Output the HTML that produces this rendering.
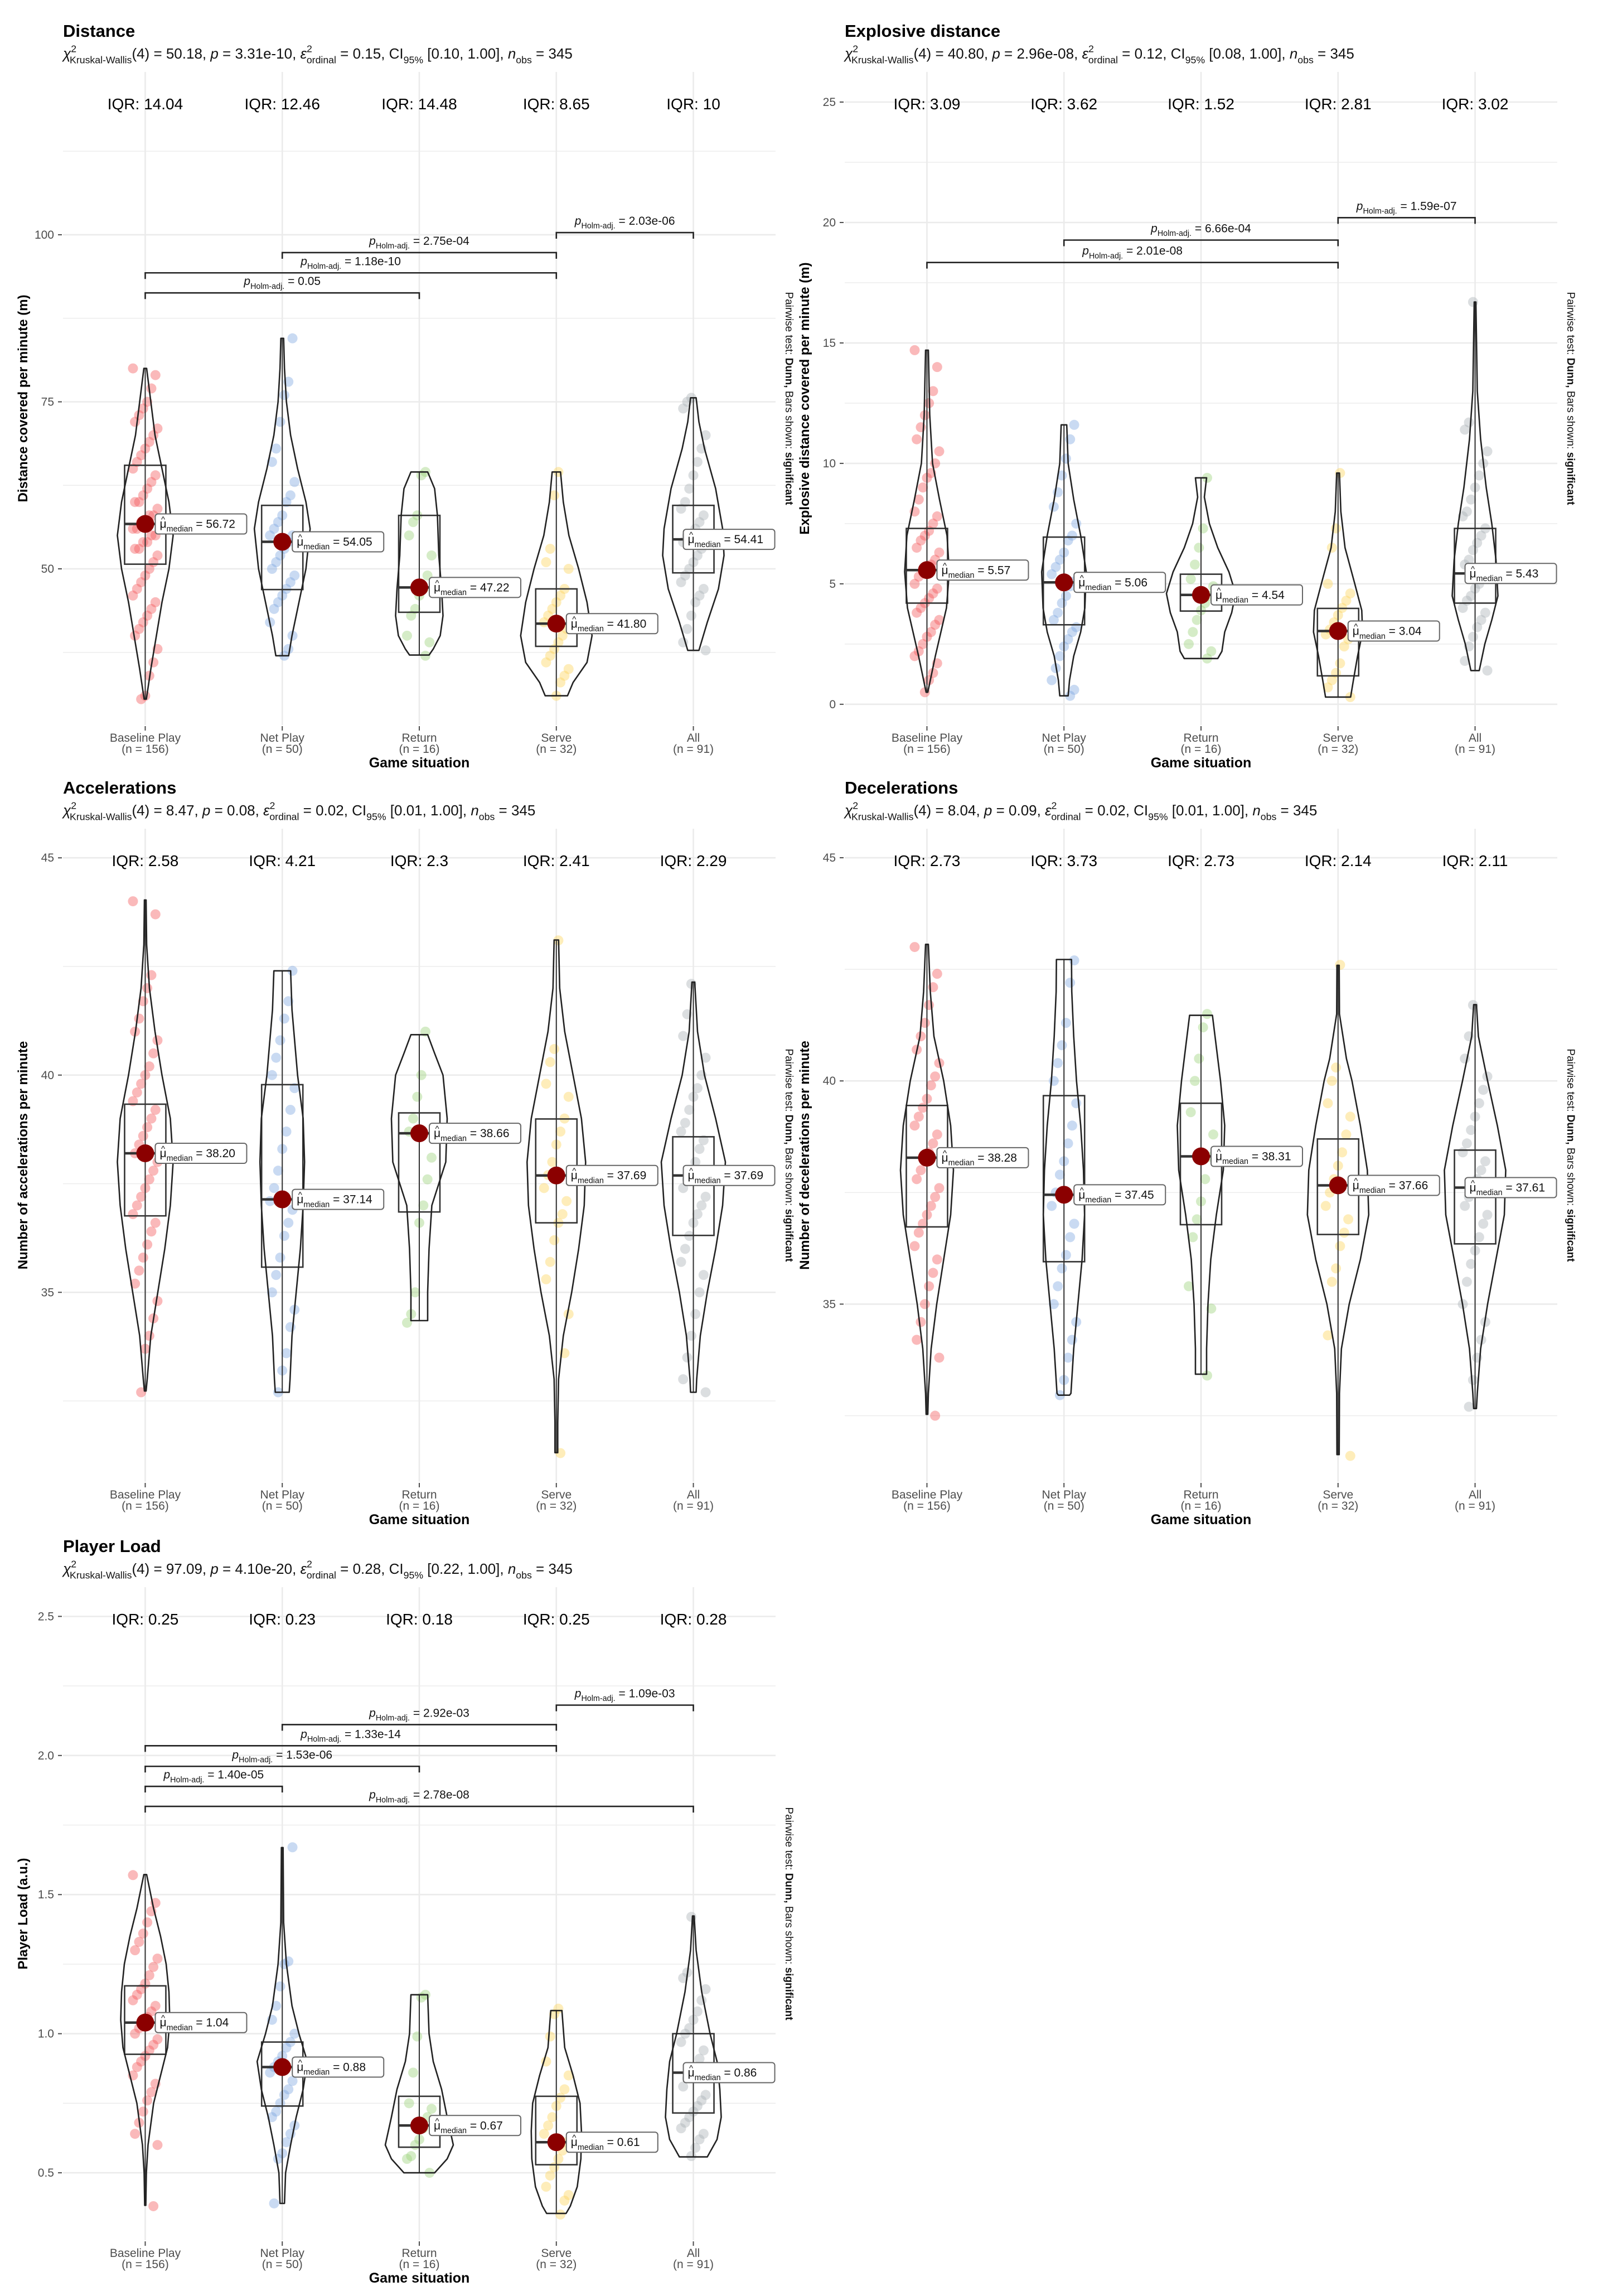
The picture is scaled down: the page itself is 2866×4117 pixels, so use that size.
<!DOCTYPE html>
<html><head><meta charset="utf-8"><title>Game situation comparisons</title>
<style>
html,body{margin:0;padding:0;background:#fff;}
svg{display:block;font-family:"Liberation Sans",Arial,sans-serif;}
</style></head>
<body>
<svg id="chart" width="2866" height="4117" viewBox="0 0 2866 4117" xmlns="http://www.w3.org/2000/svg"></svg>
<script>
// ---------- shared data ----------
const categories = ["Baseline Play","Net Play","Return","Serve","All"];
const counts = [156,50,16,32,91];

// ---------- Distance ----------
const distIQR = ["14.04","12.46","14.48","8.65","10"];
const distMedian = [56.72,54.05,47.22,41.80,54.41];
const distQ1 = [50.7,46.9,43.5,38.4,49.4];
const distQ3 = [65.5,59.5,58.0,47.0,59.5];
const distMin = [30.5,37.0,37.1,31.0,37.8];
const distMax = [80.0,84.5,64.5,64.5,75.6];
const distViolin = [
 [[80,0.05],[75,0.2],[70,0.35],[65,0.6],[60,0.85],[55,1.0],[50,0.85],[45,0.6],[40,0.4],[35,0.2],[30.5,0.04]],
 [[84.5,0.05],[80,0.08],[75,0.15],[70,0.3],[65,0.55],[60,0.85],[56,1.0],[50,0.85],[45,0.6],[40,0.35],[37,0.23]],
 [[64.5,0.3],[62,0.55],[58,0.65],[52,0.7],[47,0.8],[43,0.85],[40,0.75],[38,0.5],[37.1,0.35]],
 [[64.5,0.15],[60,0.25],[55,0.45],[50,0.8],[45,1.1],[40,1.28],[36,1.1],[33,0.6],[31,0.4]],
 [[75.6,0.1],[72,0.2],[68,0.4],[62,0.8],[56,1.05],[52,1.1],[47,0.9],[42,0.5],[37.8,0.2]]
];
const distPoints = [
 [80,79,77,75,74,73,72,71,70,69,68,67,66,65,64,63,62,61,60,60,59,58,58,57,57,56,56,55,55,54,54,53,53,52,51,50,49,48,47,46,45,44,43,42,41,40,38,36,34,31,30.5],
 [84.5,78,76,72,68,66,63,61,60,58,57,56,55,55,54,53,52,51,50,49,48,47,46,45,44,42,40,38,37],
 [64.5,64,58,57,55,52,49,47,46,44,43,40,39,37],
 [64.5,61,53,51,50,47,46,45,44,43,42,41,40,39,38,37,36,35,34,33,31],
 [75.6,75,74,70,68,66,64,62,60,59,58,57,56,55,55,54,54,53,52,51,50,49,48,47,46,45,43,41,39,37.8]
];
const distBarFrom = [3,1,0,0];
const distBarTo = [4,3,3,2];
const distBarY = [100.33,97.33,94.3,91.3];
const distBarP = ["2.03e-06","2.75e-04","1.18e-10","0.05"];
const distTicks = [50,75,100];

// ---------- Explosive distance ----------
const explIQR = ["3.09","3.62","1.52","2.81","3.02"];
const explMedian = [5.57,5.06,4.54,3.04,5.43];
const explQ1 = [4.2,3.3,3.87,1.18,4.2];
const explQ3 = [7.3,6.94,5.4,3.98,7.3];
const explMin = [0.5,0.35,1.9,0.3,1.4];
const explMax = [14.7,11.6,9.4,9.6,16.7];
const explViolin = [
 [[14.7,0.05],[12,0.1],[10,0.2],[8.5,0.45],[7,0.72],[5.5,0.8],[4,0.7],[3,0.5],[2,0.3],[1,0.12],[0.5,0.03]],
 [[11.6,0.1],[10,0.15],[8.5,0.35],[7,0.6],[5.5,0.8],[4,0.75],[3,0.6],[2,0.35],[1,0.2],[0.35,0.15]],
 [[9.4,0.2],[8.6,0.12],[7.5,0.3],[6.5,0.6],[5.5,1.0],[4.6,1.24],[3.8,1.1],[3,0.85],[2.2,0.75],[1.9,0.6]],
 [[9.6,0.05],[8,0.1],[6.5,0.25],[5,0.6],[3.9,0.85],[3,0.88],[2,0.7],[1,0.55],[0.3,0.45]],
 [[16.7,0.03],[13,0.08],[11,0.2],[9,0.4],[7.5,0.6],[6,0.75],[4.5,0.82],[3.5,0.6],[2.5,0.35],[1.4,0.15]]
];
const explPoints = [
 [14.7,14,13,12.5,12,11.5,11,10.5,10,9.6,9.4,9,8.5,8,7.8,7.5,7.2,7,6.8,6.5,6.3,6,5.8,5.6,5.5,5.3,5,4.8,4.6,4.4,4.2,4,3.8,3.5,3.3,3,2.8,2.5,2.2,2,1.7,1.3,1,0.5],
 [11.6,11,10.2,9.5,8.8,8.2,7.5,7,6.8,6.3,6,5.7,5.4,5.1,4.9,4.5,4.2,3.8,3.5,3.2,3,2.7,2.4,2,1.5,1,0.6,0.35],
 [9.4,7.3,6.5,5.8,5.2,4.9,4.5,4.2,3.9,3.5,3,2.5,2.2,1.9],
 [9.6,7.3,6.5,5,4.6,4.3,4,3.7,3.4,3.1,2.9,2.7,2.4,1.7,1.3,1,0.7,0.3],
 [16.7,11.7,11.4,10.5,10,9.5,9,8.5,8,7.8,7.3,7,6.7,6.4,6,5.8,5.5,5.3,5,4.8,4.5,4.3,4,3.8,3.5,3.2,2.8,2.4,1.8,1.4]
];
const explBarFrom = [3,1,0];
const explBarTo = [4,3,3];
const explBarY = [20.2,19.27,18.34];
const explBarP = ["1.59e-07","6.66e-04","2.01e-08"];
const explTicks = [0,5,10,15,20,25];

// ---------- Accelerations ----------
const accIQR = ["2.58","4.21","2.3","2.41","2.29"];
const accMedian = [38.20,37.14,38.66,37.69,37.69];
const accQ1 = [36.76,35.58,36.85,36.6,36.31];
const accQ3 = [39.33,39.78,39.13,38.99,38.58];
const accMin = [32.73,32.7,34.35,31.31,32.7];
const accMax = [44.03,42.4,40.93,43.11,42.14];
const accViolin = [
 [[44.03,0.03],[43,0.05],[42,0.15],[41,0.35],[40,0.6],[39,0.9],[38,1.0],[37,0.9],[36,0.7],[35,0.45],[34,0.2],[33,0.07],[32.73,0.03]],
 [[42.4,0.3],[41.5,0.35],[40,0.55],[39,0.75],[38,0.8],[37,0.75],[36,0.65],[35,0.5],[34,0.35],[33,0.28],[32.7,0.25]],
 [[40.93,0.3],[40.5,0.55],[40,0.85],[39,1.0],[38,0.95],[37.5,0.7],[37,0.45],[36,0.35],[35,0.3],[34.35,0.3]],
 [[43.11,0.08],[42,0.12],[41,0.3],[40,0.6],[39,0.9],[38,1.05],[37,1.0],[36,0.8],[35,0.55],[34,0.25],[33,0.08],[32,0.05],[31.31,0.05]],
 [[42.14,0.05],[41,0.15],[40,0.4],[39,0.8],[38,1.15],[37,1.05],[36,0.8],[35,0.5],[34,0.25],[33,0.12],[32.7,0.1]]
];
const accPoints = [
 [44,43.7,42.3,42,41.7,41.3,41,40.8,40.5,40.2,40,39.8,39.6,39.4,39.2,39,38.8,38.6,38.4,38.2,38,37.8,37.6,37.4,37.2,37,36.8,36.6,36.4,36.1,35.8,35.5,35.2,34.8,34.4,34,33.7,32.7],
 [42.4,41.7,41.3,40.8,40.4,40,39.7,39.2,38.7,38.3,37.8,37.4,37.1,36.9,36.6,36.3,35.8,35.4,35,34.6,34.2,33.6,33.2,32.7],
 [41,40,39.5,39,38.7,38.1,37.6,37,36.6,35,34.5,34.3],
 [43.1,40.6,40.3,39.8,39.5,39,38.7,38.4,38,37.7,37.4,37.1,36.8,36.6,36.2,35.7,35.3,34.5,33.6,31.3],
 [42.1,41.4,40.9,40.4,40,39.7,39.5,39.2,38.9,38.7,38.5,38.3,38,37.8,37.6,37.4,37.2,37,36.8,36.6,36.3,36,35.7,35.4,35,34.5,34,33.5,33,32.7]
];
const accTicks = [35,40,45];

// ---------- Decelerations ----------
const decIQR = ["2.73","3.73","2.73","2.14","2.11"];
const decMedian = [38.28,37.45,38.31,37.66,37.61];
const decQ1 = [36.73,35.95,36.78,36.56,36.35];
const decQ3 = [39.45,39.67,39.5,38.7,38.45];
const decMin = [32.53,32.96,33.43,31.63,32.66];
const decMax = [43.06,42.72,41.47,42.59,41.71];
const decViolin = [
 [[43.06,0.05],[42,0.12],[41,0.25],[40,0.6],[39,0.85],[38,0.95],[37,0.85],[36,0.6],[35,0.35],[34,0.15],[33,0.05],[32.53,0.03]],
 [[42.72,0.27],[42,0.28],[41,0.35],[40,0.45],[39,0.6],[38,0.7],[37,0.74],[36,0.65],[35,0.5],[34,0.35],[33,0.25],[32.96,0.2]],
 [[41.47,0.41],[40,0.7],[39,0.85],[38,0.8],[37,0.55],[36,0.35],[35,0.25],[34,0.2],[33.43,0.2]],
 [[42.59,0.04],[41.5,0.05],[40.5,0.3],[40,0.5],[39,0.8],[38,1.05],[37,1.1],[36,0.8],[35,0.4],[34,0.12],[33,0.05],[31.63,0.04]],
 [[41.71,0.05],[41,0.12],[40,0.45],[39,0.8],[38,1.1],[37,1.05],[36,0.75],[35,0.45],[34,0.2],[33,0.08],[32.66,0.05]]
];
const decPoints = [
 [43,42.4,42.1,41.7,41.3,41,40.7,40.4,40.1,39.9,39.6,39.4,39.2,39,38.8,38.6,38.4,38.2,38,37.8,37.6,37.4,37.2,37,36.8,36.6,36.3,36,35.7,35.4,35,34.6,34.2,33.8,32.5],
 [42.7,42.2,41.3,40.8,40.4,40,39.5,39,38.6,38.2,37.9,37.5,37.2,36.8,36.5,36.1,35.8,35.4,35,34.6,34.2,33.8,33.3,32.96],
 [41.5,41.2,40.5,40,39.3,38.8,38.3,37.8,37.3,36.9,36.5,35.4,34.9,33.4],
 [42.6,40.3,40,39.5,39.2,38.8,38.4,38.1,37.8,37.5,37.2,36.9,36.6,36.3,35.8,35.5,34.3,31.6],
 [41.7,41,40.5,40.1,39.8,39.5,39.2,38.9,38.6,38.4,38.2,38,37.8,37.6,37.4,37.2,37,36.8,36.5,36.2,35.9,35.5,35,34.6,34.2,33.8,33.3,32.7]
];
const decTicks = [35,40,45];

// ---------- Player Load ----------
const plIQR = ["0.25","0.23","0.18","0.25","0.28"];
const plMedian = [1.04,0.88,0.67,0.61,0.86];
const plQ1 = [0.926,0.74,0.592,0.529,0.715];
const plQ3 = [1.172,0.97,0.775,0.775,1.0];
const plMin = [0.383,0.39,0.5,0.354,0.557];
const plMax = [1.572,1.669,1.14,1.083,1.423];
const plViolin = [
 [[1.572,0.05],[1.45,0.3],[1.35,0.55],[1.25,0.75],[1.15,0.85],[1.05,0.88],[0.95,0.8],[0.85,0.55],[0.75,0.3],[0.6,0.1],[0.5,0.04],[0.383,0.02]],
 [[1.669,0.03],[1.4,0.05],[1.25,0.15],[1.1,0.35],[1.0,0.6],[0.9,0.9],[0.8,0.75],[0.7,0.5],[0.6,0.3],[0.5,0.12],[0.39,0.08]],
 [[1.14,0.3],[1.0,0.35],[0.9,0.5],[0.8,0.8],[0.7,1.0],[0.6,1.22],[0.55,1.0],[0.5,0.55]],
 [[1.083,0.2],[0.95,0.3],[0.85,0.6],[0.75,0.85],[0.65,0.9],[0.55,0.88],[0.45,0.75],[0.38,0.5],[0.354,0.35]],
 [[1.423,0.03],[1.3,0.1],[1.15,0.3],[1.0,0.6],[0.9,0.85],[0.8,0.95],[0.7,1.0],[0.62,0.85],[0.557,0.5]]
];
const plPoints = [
 [1.57,1.47,1.44,1.4,1.36,1.33,1.3,1.27,1.24,1.21,1.18,1.16,1.14,1.12,1.1,1.08,1.06,1.04,1.02,1.0,0.98,0.96,0.94,0.92,0.9,0.88,0.85,0.82,0.79,0.76,0.72,0.68,0.64,0.6,0.38],
 [1.67,1.26,1.25,1.17,1.1,1.05,1.0,0.97,0.95,0.92,0.9,0.88,0.86,0.83,0.8,0.78,0.75,0.72,0.7,0.67,0.64,0.61,0.57,0.55,0.39],
 [1.14,1.13,0.99,0.86,0.75,0.73,0.7,0.66,0.62,0.6,0.56,0.55,0.5],
 [1.09,1.07,0.99,0.9,0.85,0.8,0.77,0.74,0.7,0.67,0.64,0.61,0.58,0.55,0.52,0.49,0.45,0.42,0.4,0.35],
 [1.42,1.22,1.2,1.16,1.12,1.08,1.05,1.02,1.0,0.97,0.94,0.91,0.88,0.86,0.84,0.81,0.78,0.76,0.74,0.72,0.7,0.68,0.66,0.64,0.62,0.59,0.56]
];
const plBarFrom = [3,1,0,0,0,0];
const plBarTo = [4,3,3,2,1,4];
const plBarY = [2.181,2.111,2.035,1.961,1.889,1.817];
const plBarP = ["1.09e-03","2.92e-03","1.33e-14","1.53e-06","1.40e-05","2.78e-08"];
const plTicks = [0.5,1.0,1.5,2.0,2.5];

// ---------- drawing ----------
const NS = "http://www.w3.org/2000/svg";
const svg = document.getElementById("chart");
const pointColors = ["#f4575a","#7ea6e0","#9ad27a","#fdd35a","#a9b1b5"];
function mk(tag, attrs, parent){
  const el = document.createElementNS(NS, tag);
  for (const k in attrs) el.setAttribute(k, attrs[k]);
  (parent || svg).appendChild(el);
  return el;
}
function richText(parent, x, y, size, segs, anchor){
  const t = mk("text", {x:x, y:y, "font-size":size, fill:"#111", "text-anchor":anchor||"start"}, parent);
  let cur = 0;
  segs.forEach(s => {
    const ts = document.createElementNS(NS, "tspan");
    let target = 0, fs = size;
    if (s[1] === "sub") { target = size*0.32; fs = size*0.68; }
    if (s[1] === "sup") { target = -size*0.45; fs = size*0.68; }
    if (s[1] === "hat") { target = -size*0.52; fs = size*0.7; }
    ts.setAttribute("dy", (target - cur).toFixed(2));
    cur = target;
    ts.setAttribute("font-size", fs.toFixed(1));
    if (s[2]) ts.setAttribute("font-style", "italic");
    if (s[3]) ts.setAttribute("dx", s[3]);
    ts.textContent = s[0];
    t.appendChild(ts);
  });
  return t;
}

function drawPanel(cfg){
  const g = mk("g", {});
  
  
  const L = cfg.left, R = cfg.left + 1278, T = cfg.top, B = cfg.bottom;
  const y = v => T + (cfg.hi - v) / (cfg.hi - cfg.lo) * (B - T);
  const step = 1278 / 5.2;
  const x = i => L + step * 0.6 + i * step;

  const title = mk("text", {x:L, y:cfg.rowY+66, "font-size":31, "font-weight":"bold", fill:"#000"}, g);
  title.textContent = cfg.title;
  
  
  const s = cfg.stats;
  const sub = richText(g, L, cfg.rowY+105, 26, [
    ["χ","",true],["2","sup"],["Kruskal-Wallis","sub","", "-12"],["(4) = "+s[0]+", ",""],["p","",true],[" = "+s[1]+", ",""],
    ["ε","",true],["2","sup"],["ordinal","sub","","-10"],[" = "+s[2]+", CI",""],["95%","sub"],[" "+s[3]+", ",""],["n","",true],["obs","sub"],[" = 345",""]
  ]);
  
  

  const gridG = mk("g", {}, g);
  
  
  const tk = cfg.ticks, half = (tk[1]-tk[0])/2;
  for (let v = tk[0] - 4*half; v <= cfg.hi; v += half){
    if (v < cfg.lo) continue;
    const major = tk.some(t => Math.abs(t - v) < 1e-9);
    const ln = mk("line", {x1:L, x2:R, y1:y(v), y2:y(v), stroke:"#ebebeb", "stroke-width": major?2.6:1.4}, gridG);
    
    
  }
  categories.forEach((c,i) => {
    const ln = mk("line", {x1:x(i), x2:x(i), y1:T, y2:B, stroke:"#ebebeb", "stroke-width":2.6}, gridG);
    
    
  });

  tk.forEach(v => {
    const lab = mk("text", {x:L-16, y:y(v)+7, "font-size":21, fill:"#4d4d4d", "text-anchor":"end"}, g);
    lab.textContent = cfg.fmt(v);
    
    
    const tm = mk("line", {x1:L-9, x2:L-2, y1:y(v), y2:y(v), stroke:"#4d4d4d", "stroke-width":2}, g);
    
    
  });
  const yt = mk("text", {x:0, y:0, "font-size":24, "font-weight":"bold", fill:"#000", "text-anchor":"middle",
    transform:"translate("+(L-64)+","+((T+B)/2)+") rotate(-90)"}, g);
  yt.textContent = cfg.yTitle;
  
  

  categories.forEach((c,i) => {
    const tm = mk("line", {x1:x(i), x2:x(i), y1:B+2, y2:B+10, stroke:"#4d4d4d", "stroke-width":2}, g);
    
    
    const l1 = mk("text", {x:x(i), y:B+30, "font-size":21, fill:"#4d4d4d", "text-anchor":"middle"}, g);
    l1.textContent = c;
    
    
    const l2 = mk("text", {x:x(i), y:B+50, "font-size":21, fill:"#4d4d4d", "text-anchor":"middle"}, g);
    l2.textContent = "(n = " + counts[i] + ")";
    
    
  });
  const xt = mk("text", {x:(L+R)/2, y:B+76, "font-size":25, "font-weight":"bold", fill:"#000", "text-anchor":"middle"}, g);
  xt.textContent = "Game situation";
  
  

  const cap = mk("text", {x:0, y:0, "font-size":19, fill:"#111", "text-anchor":"middle",
    transform:"translate("+(R+18)+","+((T+B)/2)+") rotate(90)"}, g);
  
  
  [["Pairwise test: ",""],["Dunn,","bold"],[" Bars shown: ",""],["significant","bold"]].forEach(p => {
    const ts = document.createElementNS(NS, "tspan");
    if (p[1]) ts.setAttribute("font-weight", "bold");
    ts.textContent = p[0];
    cap.appendChild(ts);
  });

  cfg.iqr.forEach((q,i) => {
    const t = mk("text", {x:x(i), y:cfg.rowY+196, "font-size":28, fill:"#000", "text-anchor":"middle"}, g);
    t.textContent = "IQR: " + q;
    
    
  });

  categories.forEach((c,i) => {
    const cx = x(i);
    const gg = mk("g", {}, g);
    
    
    cfg.points[i].forEach((v,k) => {
      const off = (((k*37 + i*11) % 13) - 6) / 6 * 22;
      const pt = mk("circle", {cx:cx+off, cy:y(v), r:9, fill:pointColors[i], "fill-opacity":0.42}, gg);
      
      
    });
    const wh = mk("line", {x1:cx, x2:cx, y1:y(cfg.max[i]), y2:y(cfg.min[i]), stroke:"#333", "stroke-width":2}, gg);
    
    
    const bx = mk("rect", {x:cx-37, y:y(cfg.q3[i]), width:74, height:y(cfg.q1[i])-y(cfg.q3[i]), fill:"none", stroke:"#333", "stroke-width":2.6}, gg);
    
    
    const vp = cfg.violin[i];
    let d = "";
    vp.forEach((p,k) => { d += (k? "L":"M") + (cx + p[1]*50).toFixed(1) + "," + y(p[0]).toFixed(1); });
    for (let k = vp.length-1; k >= 0; k--) d += "L" + (cx - vp[k][1]*50).toFixed(1) + "," + y(vp[k][0]).toFixed(1);
    d += "Z";
    const vl = mk("path", {d:d, fill:"none", stroke:"#222", "stroke-width":2.6, "stroke-linejoin":"round"}, gg);
    
    
    const my = y(cfg.median[i]);
    const ml = mk("line", {x1:cx-37, x2:cx+37, y1:my, y2:my, stroke:"#333", "stroke-width":4.5}, gg);
    
    
    const dot = mk("circle", {cx:cx, cy:my, r:16, fill:"#8b0000"}, gg);
    
    
    const bx0 = (i === 4) ? cx - 18 : cx + 18;
    const lb = mk("rect", {x:bx0, y:my-18, width:164, height:36, rx:5, fill:"#fff", stroke:"#666", "stroke-width":2}, gg);
    
    
    const lt = richText(gg, bx0+8, my+7, 21, [["μ",""],["median","sub"],[" = " + cfg.median[i].toFixed(2),""]]);
    
    
    const hat = mk("text", {x:bx0+14, y:my-3, "font-size":15, fill:"#111", "text-anchor":"middle"}, gg);
    hat.textContent = "^";
    
    
  });

  if (cfg.barFrom){
    cfg.barFrom.forEach((f,k) => {
      const x1 = x(f), x2 = x(cfg.barTo[k]), by = y(cfg.barY[k]);
      const br = mk("path", {d:"M"+x1+","+(by+11)+"V"+by+"H"+x2+"V"+(by+11), fill:"none", stroke:"#222", "stroke-width":2.6}, g);
      
      
      const bl = richText(g, (x1+x2)/2, by-14, 21, [["p","",true],["Holm-adj.","sub"],[" = " + cfg.barP[k],""]], "middle");
      
      
    });
  }
}

const fmt0 = v => String(v);
const fmt1 = v => v.toFixed(1);
drawPanel({name:"distance", title:"Distance", stats:["50.18","3.31e-10","0.15","[0.10, 1.00]"],
  rowY:0, left:113, top:129, bottom:1300, lo:26.63, hi:124.37, ticks:distTicks, fmt:fmt0,
  yTitle:"Distance covered per minute (m)", iqr:distIQR, median:distMedian, q1:distQ1, q3:distQ3,
  min:distMin, max:distMax, violin:distViolin, points:distPoints,
  barFrom:distBarFrom, barTo:distBarTo, barY:distBarY, barP:distBarP});
drawPanel({name:"explosive-distance", title:"Explosive distance", stats:["40.80","2.96e-08","0.12","[0.08, 1.00]"],
  rowY:0, left:1515, top:129, bottom:1300, lo:-0.86, hi:26.25, ticks:explTicks, fmt:fmt0,
  yTitle:"Explosive distance covered per minute (m)", iqr:explIQR, median:explMedian, q1:explQ1, q3:explQ3,
  min:explMin, max:explMax, violin:explViolin, points:explPoints,
  barFrom:explBarFrom, barTo:explBarTo, barY:explBarY, barP:explBarP});
drawPanel({name:"accelerations", title:"Accelerations", stats:["8.47","0.08","0.02","[0.01, 1.00]"],
  rowY:1357, left:113, top:1486, bottom:2657, lo:30.64, hi:45.67, ticks:accTicks, fmt:fmt0,
  yTitle:"Number of accelerations per minute", iqr:accIQR, median:accMedian, q1:accQ1, q3:accQ3,
  min:accMin, max:accMax, violin:accViolin, points:accPoints});
drawPanel({name:"decelerations", title:"Decelerations", stats:["8.04","0.09","0.02","[0.01, 1.00]"],
  rowY:1357, left:1515, top:1486, bottom:2657, lo:31.02, hi:45.65, ticks:decTicks, fmt:fmt0,
  yTitle:"Number of decelerations per minute", iqr:decIQR, median:decMedian, q1:decQ1, q3:decQ3,
  min:decMin, max:decMax, violin:decViolin, points:decPoints});
drawPanel({name:"player-load", title:"Player Load", stats:["97.09","4.10e-20","0.28","[0.22, 1.00]"],
  rowY:2717, left:113, top:2846, bottom:4017, lo:0.2576, hi:2.605, ticks:plTicks, fmt:fmt1,
  yTitle:"Player Load (a.u.)", iqr:plIQR, median:plMedian, q1:plQ1, q3:plQ3,
  min:plMin, max:plMax, violin:plViolin, points:plPoints,
  barFrom:plBarFrom, barTo:plBarTo, barY:plBarY, barP:plBarP});
</script>
</body></html>
